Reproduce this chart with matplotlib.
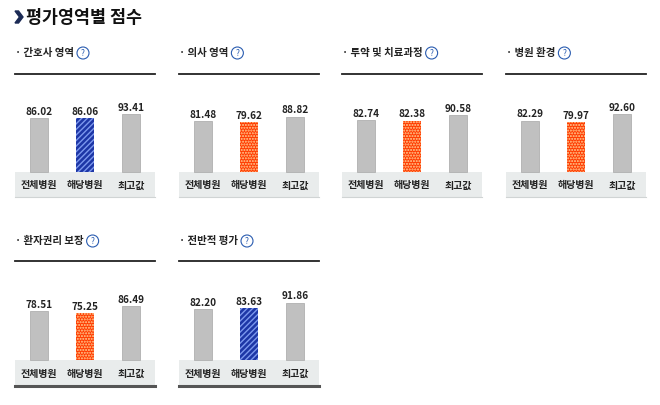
import matplotlib
matplotlib.use("Agg")
import matplotlib.pyplot as plt
from matplotlib.patches import Polygon

plt.rcParams['font.family'] = ['Noto Sans CJK KR', 'DejaVu Sans']
plt.rcParams['hatch.linewidth'] = 1.0

# ---------------- data ----------------
title = '평가영역별 점수'
categories = ['전체병원', '해당병원', '최고값']
panel_titles = ['간호사 영역', '의사 영역', '투약 및 치료과정', '병원 환경',
                '환자권리 보장', '전반적 평가']
all_hosp = [86.02, 81.48, 82.74, 82.29, 78.51, 82.20]
this_hosp = [86.06, 79.62, 82.38, 79.97, 75.25, 83.63]
best = [93.41, 88.82, 90.58, 92.60, 86.49, 91.86]
# blue = this hospital above all-hospital average, orange = below
this_style = ['blue', 'orange', 'orange', 'orange', 'orange', 'blue']

W, H = 660, 406
fig = plt.figure(figsize=(W / 100, H / 100), dpi=100)

def fx(px):
    return px / W

def fy(py):
    return 1 - py / H

# page title with chevron icon
chev = Polygon([[fx(15), fy(12)], [fx(18.5), fy(12)], [fx(23), fy(18)],
                [fx(18.5), fy(24)], [fx(15), fy(24)], [fx(19.5), fy(18)]],
               closed=True, transform=fig.transFigure, color='#1b2a55')
fig.patches.append(chev)
fig.text(fx(26), fy(18), title, fontsize=12.5, fontweight='bold',
         color='#111111', va='center', ha='left')

lefts = [15, 179, 342, 506]
rows = [dict(title=53, line=75, base=173, band=198),
        dict(title=241, line=262, base=361, band=387)]
scale = 0.624          # pixels per score point
pw = 140               # panel width in pixels

fig.canvas.draw()
renderer = fig.canvas.get_renderer()

for i in range(6):
    r = rows[i // 4]
    x0 = lefts[i % 4]
    top_px, bot_px = r['line'], r['band']
    ymax = (r['base'] - top_px) / scale
    ymin = -(bot_px - r['base']) / scale
    ax = fig.add_axes([fx(x0), fy(bot_px), fx(pw), (bot_px - top_px) / H])
    ax.set_xlim(-24 / 46, (pw - 24) / 46)
    ax.set_ylim(ymin, ymax)
    ax.axis('off')

    # top rule
    ax.axhline(ymax, color='#222222', lw=1.3, clip_on=False)
    # category band
    ax.axhspan(ymin, 0, color='#e9ecec', lw=0)
    if i // 4 == 1:
        ax.axhline(ymin, color='#555555', lw=2.2, clip_on=False)
    else:
        ax.axhline(ymin, color='#d0d4d4', lw=0.8, clip_on=False)

    vals = [all_hosp[i], this_hosp[i], best[i]]
    bw = 18 / 46
    ax.bar(0, vals[0], width=bw, color='#c0c0c0', edgecolor='#b0b0b0', lw=0.6)
    ax.bar(2, vals[2], width=bw, color='#c0c0c0', edgecolor='#b0b0b0', lw=0.6)
    if this_style[i] == 'blue':
        ax.bar(1, vals[1], width=bw, color='#1d36a6', edgecolor='#7c98ee',
               hatch='//////', lw=0)
    else:
        ax.bar(1, vals[1], width=bw, color='#ff3a00', edgecolor='#ffd49a',
               hatch='......', lw=0)

    for k, v in enumerate(vals):
        ax.text(k, v + 3.5, f'{v:.2f}', ha='center', va='bottom',
                fontsize=7.2, fontweight='bold', color='#222222')
        ax.text(k, ymin / 2, categories[k], ha='center', va='center',
                fontsize=7.2, fontweight='bold', color='#222222')

    # panel title with help icon
    t = fig.text(fx(x0), fy(r['title']), '· ' + panel_titles[i], fontsize=7.5,
                 fontweight='bold', color='#222222', va='center', ha='left')
    bb = t.get_window_extent(renderer=renderer)
    fig.text(bb.x1 / W + fx(9), fy(r['title'] + 1), '?', fontsize=6,
             color='#2a5cb0', va='center', ha='center',
             bbox=dict(boxstyle='circle,pad=0.18', fc='white',
                       ec='#2a5cb0', lw=0.8))

fig.savefig('out.png', dpi=100)
